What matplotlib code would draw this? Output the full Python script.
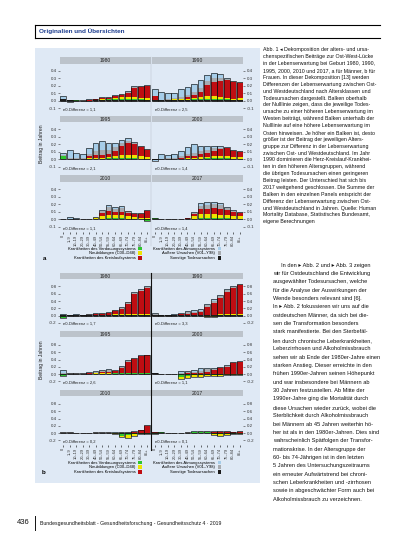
import numpy as np
import matplotlib
matplotlib.use("Agg")
import matplotlib.pyplot as plt
from matplotlib.patches import Rectangle, Patch
from matplotlib.lines import Line2D

plt.rcParams['font.family'] = ['Liberation Sans Narrow', 'Liberation Sans', 'DejaVu Sans']

# ---------------- data ----------------
AGE_GROUPS = ["0", "1–9", "10–19", "20–29", "30–39", "40–49", "50–54", "55–59",
              "60–64", "65–69", "70–74", "75–79", "80–84", "85+"]
YEARS = ["1980", "1990", "1995", "2000", "2010", "2017"]
NOTES_A = ["e0-Differenz = 1,1", "e0-Differenz = 2,5", "e0-Differenz = 2,1",
           "e0-Differenz = 1,4", "e0-Differenz = 1,1", "e0-Differenz = 1,4"]
NOTES_B = ["e0-Differenz = 1,7", "e0-Differenz = 3,3", "e0-Differenz = 2,6",
           "e0-Differenz = 1,1", "e0-Differenz = 0,2", "e0-Differenz = 0,1"]

COMPONENTS = ["black", "green", "yellow", "red", "grey", "lblue"]
LEGEND_LABELS = {
    "green": "Krankheiten des Verdauungssystems",
    "yellow": "Neubildungen (C00–D48)",
    "red": "Krankheiten des Kreislaufsystems",
    "lblue": "Krankheiten des Atmungssystems",
    "grey": "Äußere Ursachen (V01–Y98)",
    "black": "Sonstige Todesursachen",
}

# panel a: one row per year (1980, 1990, 1995, 2000, 2010, 2017)
A_BLACK = [
    [0.02, 0.005, 0, 0, 0, 0.005, 0.005, 0.01, 0.005, 0.005, 0.005, 0.005, 0.005, 0.005],
    [0.01, 0.01, 0.01, 0.01, 0.01, 0.005, 0.01, 0.01, 0.01, 0.01, 0.01, 0.005, 0.005, 0.005],
    [0.01, 0.01, 0.01, 0.01, 0.01, 0.005, 0.005, 0.005, 0.005, 0.005, 0.005, 0.005, 0.005, 0.005],
    [-0.01, 0.005, 0.005, 0.005, 0.005, 0.005, 0.005, 0.005, 0.005, 0.005, 0.005, 0.005, 0.005, 0.005],
    [0.003, 0.003, 0.002, 0.002, 0.002, 0.01, 0.003, 0.003, 0.003, 0.003, 0.003, 0.003, 0.003, 0.003],
    [0.01, 0, 0.002, 0.002, 0.002, 0.002, 0.003, 0.003, 0.003, 0.003, 0.003, 0.003, 0.003, 0.003],
]
A_GREEN = [
    [0, 0.01, 0.005, 0, 0, 0.005, 0.01, 0.01, 0.02, 0.02, 0.02, 0.025, 0.02, 0.01],
    [0, 0, 0, 0, 0, 0.005, 0.01, 0.01, 0.02, 0.02, 0.02, 0.015, 0.01, 0.01],
    [0.03, 0, 0, 0, 0, 0.005, 0.005, 0.01, 0.01, 0.01, 0.01, 0.01, 0.005, 0.005],
    [0, 0, 0, 0, 0, 0.005, 0.005, 0.005, 0.01, 0.01, 0.01, 0.01, 0.005, 0.005],
    [0, 0, 0, 0, 0, 0, 0.005, 0.01, 0.01, 0.01, 0.005, 0.005, 0, -0.02],
    [0.01, 0, 0, 0, 0, 0, 0.005, 0.01, 0.01, 0.01, 0.01, 0.01, 0.005, 0.005],
]
A_YELLOW = [
    [0, 0, 0, 0, 0, 0.005, 0.01, 0.01, 0.015, 0.02, 0.02, 0.02, 0.015, 0.02],
    [0, 0, 0, 0.01, 0.01, 0.01, 0.02, 0.03, 0.03, 0.03, 0.02, 0.015, 0.015, 0.02],
    [0, 0, 0, 0, 0.005, 0.01, 0.01, 0.01, 0.03, 0.04, 0.04, 0.04, 0.035, 0.02],
    [0, 0, 0, 0, 0.005, 0.01, 0.01, 0.015, 0.02, 0.03, 0.03, 0.03, 0.02, 0.02],
    [0, 0, 0, 0, 0, 0.005, 0.04, 0.05, 0.05, 0.04, 0.03, 0.02, 0.015, 0.015],
    [0, 0.005, 0, 0, 0, 0.005, 0.04, 0.06, 0.06, 0.06, 0.05, 0.04, 0.03, 0.03],
]
A_RED = [
    [0, 0, 0, 0, 0.005, 0.005, 0.01, 0.01, 0.02, 0.03, 0.06, 0.12, 0.15, 0.16],
    [0.05, 0, 0, 0.01, 0.01, 0.03, 0.04, 0.07, 0.15, 0.19, 0.21, 0.24, 0.22, 0.21],
    [0, 0, 0, 0, 0.03, 0.04, 0.04, 0.05, 0.07, 0.12, 0.16, 0.15, 0.12, 0.10],
    [0.01, 0, 0, 0, 0.01, 0.02, 0.03, 0.04, 0.05, 0.07, 0.09, 0.10, 0.08, 0.07],
    [0, 0, 0, 0, 0, 0.005, 0.04, 0.05, 0.04, 0.05, 0.05, 0.04, 0.05, 0.10],
    [0, 0.005, 0, 0, 0, 0.005, 0.02, 0.06, 0.07, 0.08, 0.08, 0.07, 0.06, 0.05],
]
A_GREY = [
    [0, 0, 0, 0.005, 0.005, 0, 0.005, 0.005, 0.01, 0.01, 0.015, 0.02, 0.01, 0.01],
    [0, 0, 0.01, 0.01, 0.02, 0.03, 0.04, 0.05, 0.06, 0.05, 0.04, 0.02, 0.01, 0.005],
    [0.02, 0.01, 0.01, 0.01, 0.03, 0.05, 0.06, 0.05, 0.05, 0.04, 0.03, 0.02, 0.01, 0.005],
    [0, 0.005, 0.01, 0.01, 0.02, 0.03, 0.04, 0.04, 0.04, 0.03, 0.02, 0.01, 0.01, 0.005],
    [0, 0.005, 0, 0, 0, 0.005, 0.03, 0.05, 0.04, 0.05, 0.02, 0.01, 0.01, 0.005],
    [0, 0, 0, 0, 0, 0.005, 0.02, 0.05, 0.05, 0.05, 0.05, 0.03, 0.02, 0.01],
]
A_LBLUE = [
    [0.05, -0.02, 0.01, 0.01, 0.01, 0.005, 0.005, 0.01, 0.01, 0.01, 0.01, 0.015, 0.005, 0.005],
    [0.10, 0.11, 0.08, 0.07, 0.11, 0.11, 0.11, 0.11, 0.08, 0.07, 0.06, 0.005, 0, 0],
    [0.03, 0.11, 0.07, 0.05, 0.08, 0.11, 0.12, 0.10, 0.06, 0.05, 0.04, 0.005, 0, 0],
    [-0.01, 0.06, 0.04, 0.05, 0.07, 0.09, 0.11, 0.08, 0.06, 0.04, 0.02, 0.005, 0, 0],
    [0, 0.025, 0.02, 0, 0, 0.005, 0.005, 0.03, 0.02, 0.03, 0.005, 0, 0, 0],
    [0, 0, 0, 0.005, 0, 0.005, 0.01, 0.03, 0.04, 0.03, 0.02, 0.01, 0.005, 0.005],
]

# panel b
B_BLACK = [
    [0.01, 0.01, 0.01, 0.005, 0.01, 0.005, 0.005, 0.005, 0.005, 0.005, 0.005, 0.005, 0.005, 0.005],
    [0.01, 0.005, 0.005, 0.005, 0.01, 0.01, 0.01, 0.01, 0.01, 0.01, 0.01, 0.01, 0.01, 0.01],
    [0.01, 0.01, 0.01, 0.01, 0.01, 0.005, 0.005, 0.005, 0.005, 0.005, 0.005, 0.005, 0.005, 0.005],
    [0.02, 0.005, 0.005, 0, 0.005, 0.005, 0.005, 0.005, 0.005, 0.005, 0.005, 0.005, 0.005, 0.005],
    [0.01, 0.01, 0.005, 0.005, 0.005, 0.01, 0.01, 0.005, 0.003, 0.003, 0.003, 0.003, 0.003, 0.003],
    [0.01, 0, 0, 0, 0.005, 0.01, 0.01, 0.01, 0.005, 0.005, 0.005, 0.005, 0.005, 0.005],
]
B_GREEN = [
    [-0.07, 0, 0, 0, 0, 0.005, 0.01, 0.01, 0.015, 0.015, 0.02, 0.02, 0.01, 0.005],
    [0, 0, 0, 0, 0, 0.005, 0.01, 0.01, 0.01, 0.01, 0.01, 0.01, 0.01, 0.01],
    [-0.05, 0, 0, 0, 0, 0.005, 0.005, 0.005, 0.01, 0.01, 0.01, 0.01, 0.01, 0.01],
    [0, 0, 0, 0, -0.08, -0.06, -0.03, -0.02, -0.02, -0.02, -0.02, -0.01, -0.01, 0],
    [0, 0, 0, 0, 0, 0, 0, 0, -0.01, -0.07, -0.05, -0.03, -0.02, -0.02],
    [-0.02, 0.03, 0, 0, 0, 0, 0.005, 0.005, 0.01, -0.03, -0.04, -0.03, -0.02, -0.01],
]
B_YELLOW = [
    [0, 0, 0, 0, 0, 0.005, 0.01, 0.01, 0.02, 0.02, 0.02, 0.02, 0.02, 0.02],
    [0, 0, 0, 0, -0.01, -0.01, -0.02, -0.02, -0.03, -0.03, 0.01, 0.01, 0.01, 0.01],
    [0, 0, 0, 0, 0, 0.005, 0.01, 0.01, 0.01, 0.01, 0.02, 0.02, 0.02, 0.02],
    [0, 0, 0, 0, -0.06, -0.05, -0.04, -0.05, -0.04, -0.04, -0.03, -0.03, -0.02, -0.02],
    [0, 0, 0, 0, 0, 0, 0, 0, -0.01, -0.03, -0.10, -0.04, -0.01, -0.01],
    [0, 0, 0, 0, 0, 0, 0.01, 0.01, 0.01, -0.02, -0.03, -0.03, -0.02, -0.01],
]
B_RED = [
    [0.01, 0, 0, 0, 0.01, 0.02, 0.03, 0.04, 0.08, 0.15, 0.28, 0.55, 0.65, 0.74],
    [0.01, 0, 0, 0.005, 0.02, 0.04, 0.05, 0.07, 0.22, 0.33, 0.45, 0.62, 0.72, 0.80],
    [0, 0, 0, 0, 0.01, 0.02, 0.03, 0.04, 0.06, 0.15, 0.30, 0.38, 0.46, 0.48],
    [0, 0, 0, 0, 0, 0.01, 0.02, 0.03, 0.06, 0.10, 0.15, 0.20, 0.30, 0.32],
    [0, 0, 0, 0, 0, 0, 0, 0, 0.005, 0.01, 0.01, 0.03, 0.08, 0.20],
    [0.01, 0, 0, 0, 0, 0, 0.005, 0.01, 0.01, 0.02, 0.03, 0.03, 0.02, 0.03],
]
B_GREY = [
    [0, 0.005, 0.01, 0.01, 0.01, 0.01, 0.01, 0.01, 0.02, 0.03, 0.04, 0.03, 0.03, 0.02],
    [0.01, 0.005, 0.01, 0.01, 0.02, 0.03, 0.03, 0.04, 0.04, 0.05, 0.05, 0.04, 0.04, 0.03],
    [0.03, 0.005, 0.005, 0.005, 0.01, 0.02, 0.03, 0.04, 0.01, 0.02, 0.02, 0.02, 0.01, 0.01],
    [0.005, 0, 0, 0, 0.03, 0.03, 0.04, 0.06, 0.06, 0.04, 0.03, 0.02, 0.02, 0.01],
    [0.02, 0.02, 0.005, 0, 0.005, 0.02, 0.02, 0.01, 0.005, 0.01, 0.01, 0.005, 0.005, 0.01],
    [0.005, 0, 0, 0, 0, 0.01, 0.01, 0.01, 0.01, 0.01, 0.02, 0.02, 0.01, 0.01],
]
B_LBLUE = [
    [0.01, 0.01, 0.01, 0.005, 0.02, 0.02, 0.01, 0.01, 0.01, 0.01, 0.01, 0.01, 0.01, 0.01],
    [0.03, 0.005, 0.01, 0.01, 0.03, 0.04, 0.04, 0.04, 0.04, 0.05, 0.04, 0.03, 0.03, 0.02],
    [0.06, 0.005, 0.005, 0.005, 0.02, 0.04, 0.04, 0.05, 0.01, 0.02, 0.02, 0.01, 0.01, 0.01],
    [0.01, 0, 0, 0, 0.04, 0.03, 0.04, 0.06, 0.05, 0.03, 0.02, 0.02, 0.01, 0.01],
    [0.01, 0.005, 0, 0, 0, 0.005, 0.005, 0.005, 0.005, 0.005, 0.005, 0.005, 0.005, 0.005],
    [0, 0, 0, 0, 0, 0.005, 0.005, 0.005, 0.005, 0.01, 0.01, 0.01, 0.005, 0.005],
]

A_TICKS = [-0.1, 0.0, 0.1, 0.2, 0.3, 0.4]
B_TICKS = [-0.2, 0.0, 0.2, 0.4, 0.6, 0.8]

CAPTION = [
    "Abb. 1 ◂ Dekomposition der alters- und ursa-",
    "chenspezifischen Beiträge zur Ost-West-Lücke",
    "in der Lebenserwartung bei Geburt 1980, 1990,",
    "1995, 2000, 2010 und 2017, a für Männer, b für",
    "Frauen. In dieser Dekomposition [13] werden",
    "Differenzen der Lebenserwartung zwischen Ost-",
    "und Westdeutschland nach Altersklassen und",
    "Todesursachen dargestellt. Balken oberhalb",
    "der Nulllinie zeigen, dass die jeweilige Todes-",
    "ursache zu einer höheren Lebenserwartung im",
    "Westen beiträgt, während Balken unterhalb der",
    "Nulllinie auf eine höhere Lebenserwartung im",
    "Osten hinweisen. Je höher ein Balken ist, desto",
    "größer ist der Beitrag der jeweiligen Alters-",
    "gruppe zur Differenz in der Lebenserwartung",
    "zwischen Ost- und Westdeutschland. Im Jahr",
    "1990 dominieren die Herz-Kreislauf-Krankhei-",
    "ten in den höheren Altersgruppen, während",
    "die übrigen Todesursachen einen geringeren",
    "Beitrag leisten. Der Unterschied hat sich bis",
    "2017 weitgehend geschlossen. Die Summe der",
    "Balken in den einzelnen Panels entspricht der",
    "Differenz der Lebenserwartung zwischen Ost-",
    "und Westdeutschland in Jahren. Quelle: Human",
    "Mortality Database, Statistisches Bundesamt,",
    "eigene Berechnungen",
]

BODY = [
    "     In den ▸ Abb. 2 und ▸ Abb. 3 zeigen",
    "wir für Ostdeutschland die Entwicklung",
    "ausgewählter Todesursachen, welche",
    "für die Analyse der Auswirkungen der",
    "Wende besonders relevant sind [6].",
    "In ▸ Abb. 2 fokussieren wir uns auf die",
    "ostdeutschen Männer, da sich bei die-",
    "sen die Transformation besonders",
    "stark manifestierte. Bei den Sterbefäl-",
    "len durch chronische Leberkrankheiten,",
    "Leberzirrhosen und Alkoholmissbrauch",
    "sehen wir ab Ende der 1980er-Jahre einen",
    "starken Anstieg. Dieser erreichte in den",
    "frühen 1990er-Jahren seinen Höhepunkt",
    "und war insbesondere bei Männern ab",
    "30 Jahren festzustellen. Ab Mitte der",
    "1990er-Jahre ging die Mortalität durch",
    "diese Ursachen wieder zurück, wobei die",
    "Sterblichkeit durch Alkoholmissbrauch",
    "bei Männern ab 45 Jahren weiterhin hö-",
    "her ist als in den 1980er-Jahren. Dies sind",
    "wahrscheinlich Spätfolgen der Transfor-",
    "mationskrise. In der Altersgruppe der",
    "60- bis 74-Jährigen ist in den letzten",
    "5 Jahren des Untersuchungszeitraums",
    "ein erneuter Aufwärtstrend bei chroni-",
    "schen Leberkrankheiten und -zirrhosen",
    "sowie in abgeschwächter Form auch bei",
    "Alkoholmissbrauch zu verzeichnen.",
]

# ---------------- styling ----------------
COL = {"black": "#1c1c1c", "green": "#2fc52f", "yellow": "#eee400",
       "red": "#bf0d12", "grey": "#a7abb0", "lblue": "#a6cde9"}
BG = "#dfe9f5"
STRIP = "#bcc3cb"
BLUE = "#1d3d8f"

W, H = 413, 550
fig = plt.figure(figsize=(W / 100, H / 100), dpi=100)
fig.patch.set_facecolor("white")


def rect(x0, y0, x1, y1):
    return [x0 / W, 1 - y1 / H, (x1 - x0) / W, (y1 - y0) / H]


def fx(x):
    return x / W


def fy(y):
    return 1 - y / H


# header
fig.add_artist(Line2D([fx(35), fx(380)], [fy(25), fy(25)], color="k", lw=0.8))
fig.add_artist(Line2D([fx(35), fx(380)], [fy(37.5), fy(37.5)], color="k", lw=0.8))
fig.add_artist(Line2D([fx(35), fx(35)], [fy(25), fy(37.5)], color="k", lw=0.8))
fig.text(fx(39), fy(31.3), "Originalien und Übersichten", color=BLUE, fontsize=4.6,
         fontweight="bold", va="center", ha="left")

# figure background
fig.add_artist(Rectangle((fx(35), fy(483)), 225 / W, 435 / H, transform=fig.transFigure,
                         facecolor=BG, edgecolor="none", zorder=0))

COLS = [(60, 150.5), (151.5, 243)]
ROWS_A = [(57, 63.5, 113.5), (116, 122, 172), (175, 182, 232)]
ROWS_B = [(273, 278.5, 327.5), (331, 337, 386), (390, 396, 445)]
n = len(AGE_GROUPS)


def draw_panel(rows, data, ylim, ticks, notes):
    for k in range(6):
        r, c = divmod(k, 2)
        st, sb, pb = rows[r]
        x0, x1 = COLS[c]
        sax = fig.add_axes(rect(x0, st, x1, sb))
        sax.set_facecolor(STRIP)
        sax.set_xticks([]); sax.set_yticks([])
        for s in sax.spines.values():
            s.set_visible(False)
        sax.text(0.5, 0.45, YEARS[k], ha="center", va="center", fontsize=3.6, color="#222")

        ax = fig.add_axes(rect(x0, sb, x1, pb))
        ax.patch.set_alpha(0)
        xs = np.arange(n)
        pos_b = np.zeros(n); neg_b = np.zeros(n)
        for comp in COMPONENTS:
            v = np.array(data[comp][k], dtype=float)
            p = np.clip(v, 0, None); q = np.clip(v, None, 0)
            ax.bar(xs, p, bottom=pos_b, width=0.9, color=COL[comp], lw=0)
            ax.bar(xs, q, bottom=neg_b, width=0.9, color=COL[comp], lw=0)
            pos_b += p; neg_b += q
        ax.bar(xs, pos_b, width=0.9, fill=False, edgecolor="#111", lw=0.45)
        ax.bar(xs, neg_b, width=0.9, fill=False, edgecolor="#111", lw=0.45)
        ax.set_xlim(-0.5, n - 0.5)
        ax.set_ylim(*ylim)
        ax.set_yticks(ticks)
        ax.set_yticklabels([f"{t:.1f}" for t in ticks])
        for s in ax.spines.values():
            s.set_visible(False)
        ax.tick_params(axis="y", labelsize=3.2, length=1.5, width=0.4, pad=1,
                       colors="#333")
        if c == 1:
            ax.yaxis.tick_right()
        if r == 2:
            ax.set_xticks(xs)
            ax.set_xticklabels(AGE_GROUPS, rotation=90, fontsize=2.9, color="#333")
            ax.tick_params(axis="x", length=1.2, width=0.4, pad=1)
        else:
            ax.set_xticks([])
        ax.text(0.035, 0.03, notes[k], transform=ax.transAxes, fontsize=3.0,
                ha="left", va="bottom", color="#222")


A_DATA = {"black": A_BLACK, "green": A_GREEN, "yellow": A_YELLOW, "red": A_RED,
          "grey": A_GREY, "lblue": A_LBLUE}
B_DATA = {"black": B_BLACK, "green": B_GREEN, "yellow": B_YELLOW, "red": B_RED,
          "grey": B_GREY, "lblue": B_LBLUE}

draw_panel(ROWS_A, A_DATA, (-0.17, 0.5), A_TICKS, NOTES_A)
draw_panel(ROWS_B, B_DATA, (-0.33, 1.02), B_TICKS, NOTES_B)

# separators
fig.add_artist(Line2D([fx(151), fx(151)], [fy(57), fy(246)], color="#b5bdc6", lw=0.3))
fig.add_artist(Line2D([fx(151), fx(151)], [fy(273), fy(450)], color="#111", lw=0.8))

# y labels
fig.text(fx(42), fy(144), "Beitrag in Jahren", rotation=90, fontsize=3.6,
         ha="center", va="center", color="#222")
fig.text(fx(42), fy(360), "Beitrag in Jahren", rotation=90, fontsize=3.6,
         ha="center", va="center", color="#222")

# legends
for ytop in (246.5, 460.5):
    for comps, xa in ((["green", "yellow", "red"], 68), (["lblue", "grey", "black"], 153)):
        hs = [Patch(facecolor=COL[cc], edgecolor="none") for cc in comps]
        fig.legend(hs, [LEGEND_LABELS[cc] for cc in comps], loc="upper left",
                   bbox_to_anchor=(fx(xa), fy(ytop)), frameon=False, fontsize=3.0,
                   markerfirst=False, handlelength=0.9, handleheight=0.9,
                   handletextpad=0.6, labelspacing=0.15, borderpad=0, borderaxespad=0)

fig.text(fx(45), fy(259), "a", fontsize=4.5, fontweight="bold", ha="center", va="center")
fig.text(fx(44), fy(473), "b", fontsize=4.5, fontweight="bold", ha="center", va="center")

# caption
for i, line in enumerate(CAPTION):
    fig.text(fx(263), fy(50 + i * 6.87), line, fontsize=3.75, ha="left", va="center",
             color="#111")

# body text
for i, line in enumerate(BODY):
    fig.text(fx(273), fy(265 + i * 8.37), line, fontsize=4.05, ha="left", va="center",
             color="#111")

# footer
fig.text(fx(17), fy(523), "436", fontsize=5.5, ha="left", va="center", color="#111")
fig.add_artist(Line2D([fx(35), fx(35)], [fy(516), fy(530)], color="#111", lw=0.7))
fig.text(fx(40), fy(523),
         "Bundesgesundheitsblatt - Gesundheitsforschung - Gesundheitsschutz 4 · 2019",
         fontsize=3.7, ha="left", va="center", color="#111")

fig.savefig("out.png", dpi=100)
